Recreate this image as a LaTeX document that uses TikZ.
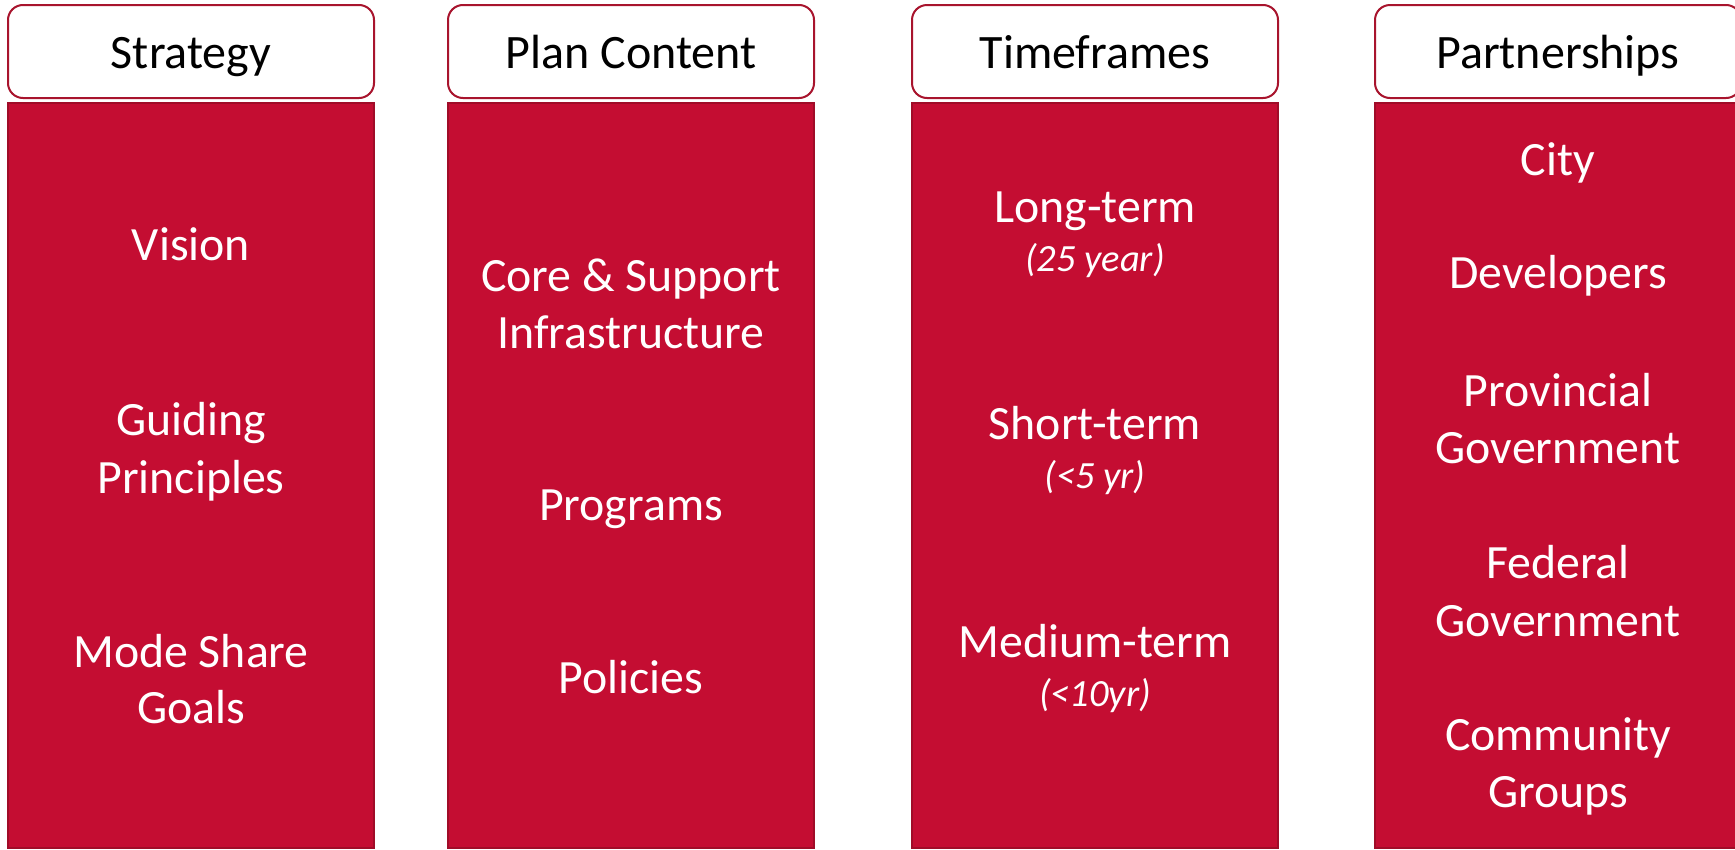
\documentclass[tikz,border=0pt]{standalone}
\usepackage{fontspec}
\setmainfont{Carlito}
\definecolor{redfill}{RGB}{196,13,50}
\definecolor{redline}{RGB}{160,12,40}
\definecolor{hdrline}{RGB}{168,20,45}
\tikzset{
  hdrbox/.style={draw=hdrline, line width=2pt, fill=white, rounded corners=15pt},
  colbox/.style={draw=redline, line width=2pt, fill=redfill},
  hdrtext/.style={anchor=base, inner sep=0pt, text=black, font=\fontsize{48}{58}\selectfont},
  bodytext/.style={anchor=base, inner sep=0pt, text=white, font=\fontsize{47.8}{57}\selectfont},
  smalltext/.style={anchor=base, inner sep=0pt, text=white, font=\fontsize{38.5}{45}\selectfont\itshape}
}
\begin{document}
\begin{tikzpicture}[x=1pt,y=-1pt]
\useasboundingbox (0,0) rectangle (1735,849);
\clip (0,0) rectangle (1735,849);
\fill[white] (0,0) rectangle (1735,849);
% columns
\foreach \xl/\nm in {8/a,448/b,912/c,1375/d}{
  \draw[hdrbox] (\xl,5) rectangle ++(366,93);
  \draw[colbox] (\xl,103) rectangle ++(366,745);
}
% headers
\node[hdrtext] (h1) at (191,68) {Strategy};
\node[hdrtext] (h2) at (631,68) {Plan Content};
\node[hdrtext] (h3) at (1095,68) {Timeframes};
\node[hdrtext] (h4) at (1558,68) {Partnerships};
% Strategy
\node[bodytext] (s1) at (191,260) {Vision};
\node[bodytext] (s2a) at (191,435) {Guiding};
\node[bodytext] (s2b) at (191,493) {Principles};
\node[bodytext] (s3a) at (191,667) {Mode Share};
\node[bodytext] (s3b) at (191,723) {Goals};
% Plan Content
\node[bodytext] (p1a) at (631,291) {Core \& Support};
\node[bodytext] (p1b) at (631,348) {Infrastructure};
\node[bodytext] (p2) at (631,520) {Programs};
\node[bodytext] (p3) at (631,693) {Policies};
% Timeframes
\node[bodytext] (t1) at (1095,222) {Long-term};
\node[smalltext] (t1s) at (1095,271) {(25 year)};
\node[bodytext] (t2) at (1095,439) {Short-term};
\node[smalltext] (t2s) at (1095,488) {(<5 yr)};
\node[bodytext] (t3) at (1095,657) {Medium-term};
\node[smalltext] (t3s) at (1095,706) {(<10yr)};
% Partnerships
\node[bodytext] (q1) at (1558,175) {City};
\node[bodytext] (q2) at (1558,288) {Developers};
\node[bodytext] (q3a) at (1558,406) {Provincial};
\node[bodytext] (q3b) at (1558,463) {Government};
\node[bodytext] (q4a) at (1558,578) {Federal};
\node[bodytext] (q4b) at (1558,636) {Government};
\node[bodytext] (q5a) at (1558,750) {Community};
\node[bodytext] (q5b) at (1558,807) {Groups};
\end{tikzpicture}
\end{document}
